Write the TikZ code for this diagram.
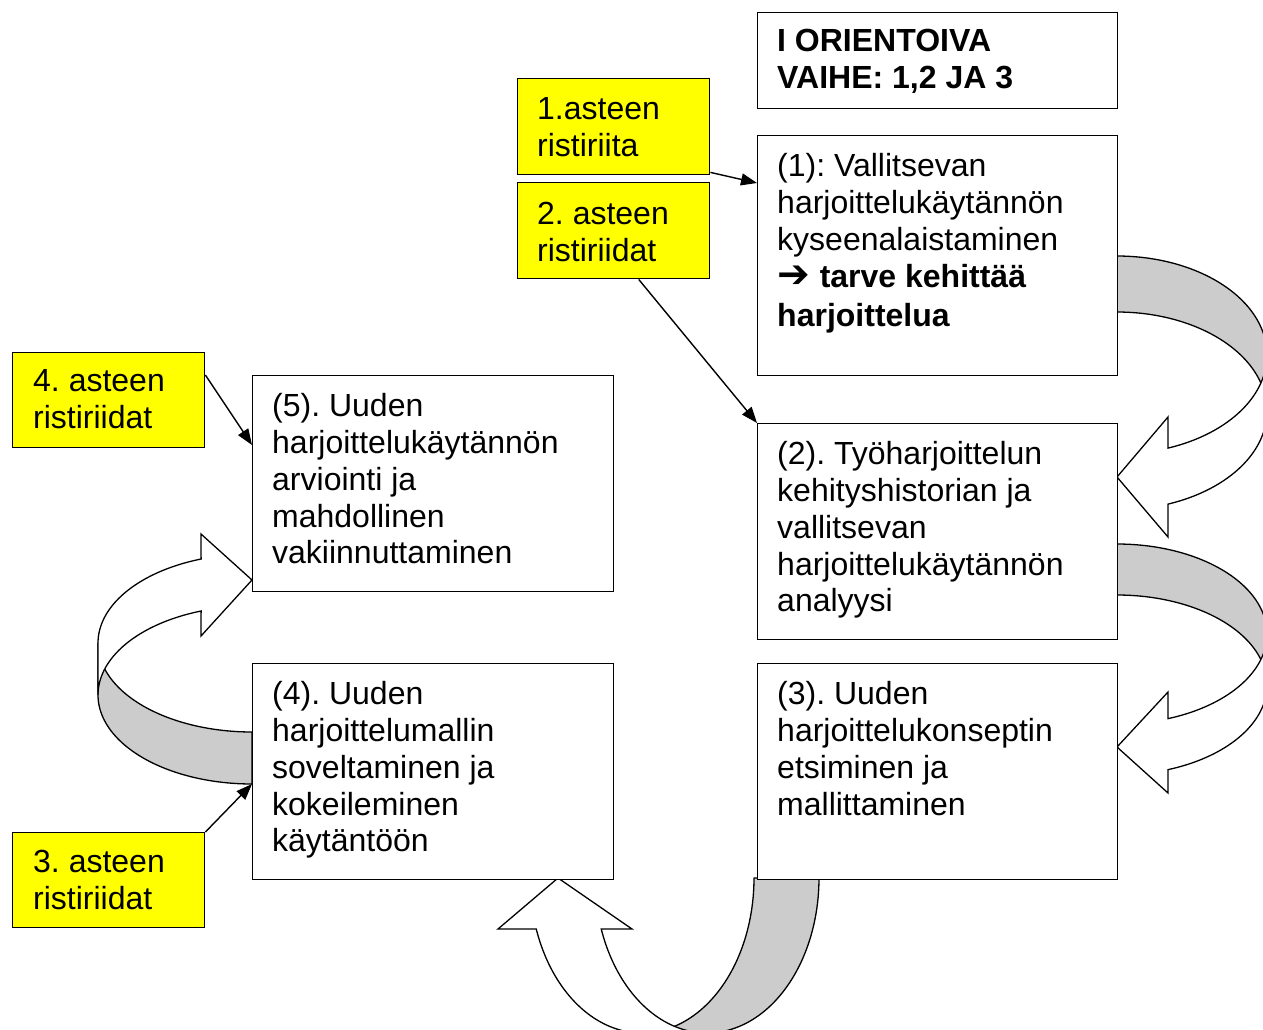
\documentclass[tikz,border=0pt]{standalone}
\usepackage{fontspec}
\setmainfont{Liberation Sans}
\newfontfamily\arrowfont{DejaVu Sans}
\usetikzlibrary{arrows.meta}
\definecolor{bandgray}{RGB}{204,204,204}
\definecolor{notey}{RGB}{255,255,0}
\newcommand\bodyfont{\fontsize{32}{36.75}\selectfont}
\frenchspacing

\tikzset{
  box/.style={draw=black, line width=1.4pt, fill=white, anchor=north west, inner sep=0pt},
  note/.style={box, fill=notey},
  txt/.style={anchor=north west, inner sep=0pt, align=left, font=\bodyfont},
  conn/.style={line width=1.4pt, -{Triangle[length=16pt,width=12pt]}},
  bandback/.style={fill=bandgray, draw=black, line width=1.3pt, line join=round},
  bandfront/.style={fill=white, draw=black, line width=1.3pt, line join=miter},
}

\begin{document}
\begin{tikzpicture}[x=1pt,y=-1pt]
\path[use as bounding box] (0,0) rectangle (1263,1030);
\fill[white] (0,0) rectangle (1263,1030);
\clip (0,0) rectangle (1263,1030);

% curved arrow from step (1) to step (2)
\path[bandback]
  plot[domain=270:360,samples=50] ({1117+150*cos(\x)},{355+99*sin(\x)})
  -- plot[domain=360:270,samples=50] ({1117+150*cos(\x)},{411+99*sin(\x)}) -- cycle;
\path[bandfront]
  plot[domain=0:70.1,samples=50] ({1117+150*cos(\x)},{355+99*sin(\x)})
  -- (1168,417) -- (1117,477) -- (1168,537)
  -- plot[domain=70.1:0,samples=50] ({1117+150*cos(\x)},{411+99*sin(\x)}) -- cycle;

% curved arrow from step (2) to step (3)
\path[bandback]
  plot[domain=270:360,samples=50] ({1117+150*cos(\x)},{634+90*sin(\x)})
  -- plot[domain=360:270,samples=50] ({1117+150*cos(\x)},{685+90*sin(\x)}) -- cycle;
\path[bandfront]
  plot[domain=0:70.1,samples=50] ({1117+150*cos(\x)},{634+90*sin(\x)})
  -- (1168,692) -- (1117,747) -- (1168,793)
  -- plot[domain=70.1:0,samples=50] ({1117+150*cos(\x)},{685+90*sin(\x)}) -- cycle;

% curved arrow from step (3) to step (4)
\path[bandback]
  plot[domain=0:90,samples=50] ({642+112*cos(\x)},{878+155*sin(\x)})
  -- plot[domain=90:0,samples=50] ({707+112*cos(\x)},{878+155*sin(\x)}) -- cycle;
\path[bandfront]
  plot[domain=90:160.8,samples=50] ({642+112*cos(\x)},{878+155*sin(\x)})
  -- (498,929) -- (558,878) -- (632,929)
  -- plot[domain=160.8:90,samples=50] ({707+112*cos(\x)},{878+155*sin(\x)}) -- cycle;

% curved arrow from step (4) to step (5)
\path[bandback]
  plot[domain=180:90,samples=50] ({252+154*cos(\x)},{643+89*sin(\x)})
  -- plot[domain=90:180,samples=50] ({252+154*cos(\x)},{695+89*sin(\x)}) -- cycle;
\path[bandfront]
  plot[domain=180:250.7,samples=50] ({252+154*cos(\x)},{643+89*sin(\x)})
  -- (201,534) -- (252,580) -- (201,636)
  -- plot[domain=250.7:180,samples=50] ({252+154*cos(\x)},{695+89*sin(\x)}) -- cycle;

% phase title
\node[box, minimum width=360pt, minimum height=96pt] (title) at (757,12) {};
\node[txt, font=\bodyfont\bfseries] (titletext) at ([xshift=20pt,yshift=-14pt]title.north west)
  {\strut I ORIENTOIVA\\VAIHE: 1,2 JA 3};

% steps
\node[box, minimum width=360pt, minimum height=240pt] (s1) at (757,135) {};
\node[txt] (s1text) at ([xshift=20pt,yshift=-16pt]s1.north west)
  {\strut (1): Vallitsevan\\harjoittelukäytännön\\kyseenalaistaminen\\
   \textbf{{\arrowfont\fontsize{39}{36.75}\selectfont ➔}\kern1pt\ tarve kehittää}\\[2.3pt]\textbf{harjoittelua}};

\node[box, minimum width=360pt, minimum height=216pt] (s2) at (757,423) {};
\node[txt] (s2text) at ([xshift=20pt,yshift=-16pt]s2.north west)
  {\strut (2). Työharjoittelun\\kehityshistorian ja\\vallitsevan\\harjoittelukäytännön\\analyysi};

\node[box, minimum width=360pt, minimum height=216pt] (s3) at (757,663) {};
\node[txt] (s3text) at ([xshift=20pt,yshift=-16pt]s3.north west)
  {\strut (3). Uuden\\harjoittelukonseptin\\etsiminen ja\\mallittaminen};

\node[box, minimum width=361pt, minimum height=216pt] (s4) at (252,663) {};
\node[txt] (s4text) at ([xshift=20pt,yshift=-16pt]s4.north west)
  {\strut (4). Uuden\\harjoittelumallin\\soveltaminen ja\\kokeileminen\\käytäntöön};

\node[box, minimum width=361pt, minimum height=216pt] (s5) at (252,375) {};
\node[txt] (s5text) at ([xshift=20pt,yshift=-16pt]s5.north west)
  {\strut (5). Uuden\\harjoittelukäytännön\\arviointi ja\\mahdollinen\\vakiinnuttaminen};

% contradiction notes
\node[note, minimum width=192pt, minimum height=96pt] (c1) at (517,78) {};
\node[txt] (c1text) at ([xshift=20pt,yshift=-16pt]c1.north west) {\strut 1.asteen\\ristiriita};

\node[note, minimum width=192pt, minimum height=96pt] (c2) at (517,182) {};
\node[txt] (c2text) at ([xshift=20pt,yshift=-16.5pt]c2.north west) {\strut 2. asteen\\ristiriidat};

\node[note, minimum width=192pt, minimum height=95pt] (c4) at (12,352) {};
\node[txt] (c4text) at ([xshift=21pt,yshift=-14pt]c4.north west) {\strut 4. asteen\\ristiriidat};

\node[note, minimum width=192pt, minimum height=95pt] (c3) at (12,832) {};
\node[txt] (c3text) at ([xshift=21pt,yshift=-15pt]c3.north west) {\strut 3. asteen\\ristiriidat};

% connectors from contradictions to steps
\draw[conn] ([yshift=3pt]c1.south east) -- ([yshift=-48pt]s1.north west);
\draw[conn] ([xshift=25pt]c2.south) -- (s2.north west);
\draw[conn] ([yshift=-23pt]c4.north east) -- ([yshift=-70pt]s5.north west);
\draw[conn] (c3.north east) -- ([yshift=-121pt]s4.north west);
\end{tikzpicture}
\end{document}
